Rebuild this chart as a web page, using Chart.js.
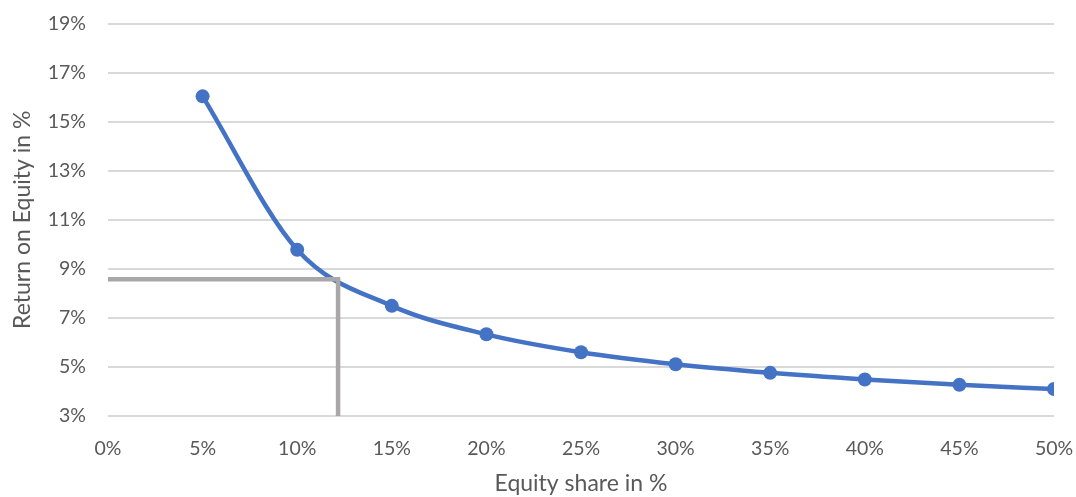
<!DOCTYPE html>
<html>
<head>
<meta charset="utf-8">
<script src="https://cdn.jsdelivr.net/npm/chart.js@4/dist/chart.umd.min.js"></script>
<style>
  html, body { margin: 0; padding: 0; background: #ffffff; }
  #wrap { width: 1076px; height: 497px; position: relative; }
</style>
</head>
<body>
<div id="wrap"><canvas id="roe"></canvas></div>
<script>
// Equity share (%) and the resulting return on equity (%)
const equityShare = [5, 10, 15, 20, 25, 30, 35, 40, 45, 50];
const returnOnEquity = [16.03, 9.78, 7.49, 6.33, 5.6, 5.11, 4.76, 4.49, 4.27, 4.1];

// Reading guide: target return and the matching equity share
const guideShare = [0, 12.16, 12.16];
const guideReturn = [8.57, 8.57, 3];

// Axis settings
const xTicks = { min: 0, max: 50, step: 5 };
const yTicks = { min: 3, max: 19, step: 2 };

const FONT = "Lato, 'Open Sans', sans-serif";
const TEXT = '#595959';
const GRID = '#d9d9d9';

const pts = (xs, ys) => xs.map((x, i) => ({ x: x, y: ys[i] }));

new Chart(document.getElementById('roe'), {
  type: 'line',
  data: {
    datasets: [
      {
        label: 'Guide',
        data: pts(guideShare, guideReturn),
        borderColor: '#a9a7a7',
        borderWidth: 4.5,
        pointRadius: 0,
        tension: 0,
        fill: false,
        borderCapStyle: 'butt',
        borderJoinStyle: 'miter'
      },
      {
        label: 'Return on Equity',
        data: pts(equityShare, returnOnEquity),
        borderColor: '#4472c4',
        backgroundColor: '#4472c4',
        borderWidth: 4.5,
        pointRadius: 7,
        pointHoverRadius: 7,
        pointBorderWidth: 0,
        cubicInterpolationMode: 'monotone',
        fill: false
      }
    ]
  },
  options: {
    responsive: true,
    maintainAspectRatio: false,
    animation: false,
    layout: { padding: { top: 23.5, right: 22, left: 0, bottom: 0 } },
    plugins: {
      legend: { display: false },
      tooltip: { enabled: false }
    },
    scales: {
      x: {
        type: 'linear',
        min: xTicks.min,
        max: xTicks.max,
        border: { display: false },
        grid: { display: false },
        ticks: {
          stepSize: xTicks.step,
          color: TEXT,
          font: { family: FONT, size: 19.5 },
          padding: 13,
          callback: v => v + '%'
        },
        title: {
          display: true,
          text: 'Equity share in %',
          color: TEXT,
          font: { family: FONT, size: 23 },
          padding: { top: 11, bottom: 0 }
        },
        afterFit: s => {
          s.height = 81;
          s.paddingLeft = 0;
          s.paddingRight = 0;
        }
      },
      y: {
        min: yTicks.min,
        max: yTicks.max,
        border: { display: false },
        grid: { color: GRID, lineWidth: 2, drawTicks: false },
        ticks: {
          stepSize: yTicks.step,
          color: TEXT,
          font: { family: FONT, size: 19.5 },
          padding: 22,
          callback: v => v + '%'
        },
        title: {
          display: true,
          text: 'Return on Equity in %',
          color: TEXT,
          font: { family: FONT, size: 23 },
          padding: { top: 9, bottom: 0 }
        },
        afterFit: s => {
          s.width = 108;
          s.paddingTop = 0;
          s.paddingBottom = 0;
        }
      }
    }
  }
});
</script>
</body>
</html>
